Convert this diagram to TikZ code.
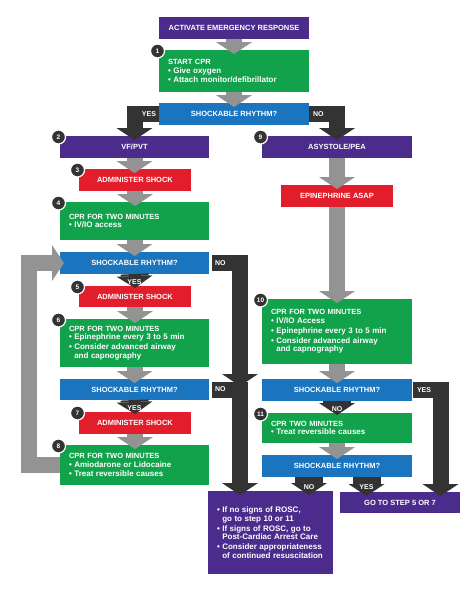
\documentclass[tikz,border=0pt]{standalone}
\usepackage{fontspec}
\setmainfont{Liberation Sans}
\usetikzlibrary{arrows.meta,calc}
\definecolor{acpurple}{HTML}{4B2C8C}
\definecolor{acgreen}{HTML}{12A24B}
\definecolor{acblue}{HTML}{1B74BE}
\definecolor{acred}{HTML}{E31E2C}
\definecolor{acdark}{HTML}{333333}
\definecolor{acgrey}{HTML}{939393}
\newcommand{\fB}{\fontsize{7.5}{8.6}\selectfont\bfseries}
\newcommand{\fL}{\fontsize{8}{8.8}\selectfont}
\newcommand{\fN}{\fontsize{6.5}{7}\selectfont\bfseries}
\newcommand{\bul}{\fL\textbullet\ }
\newcommand{\cont}{\phantom{\textbullet\ }}
\tikzset{bx/.style={inner sep=0pt,outer sep=0pt,text=white,font=\fB},
  flatbox/.style={bx,align=center,minimum height=22pt},
  listbox/.style={bx,align=left,inner xsep=9pt},
  lbl/.style={bx,font=\fontsize{7}{8}\selectfont\bfseries},
  num/.style={circle,fill=acdark,draw=white,line width=1.2pt,text=white,
    minimum size=14pt,inner sep=0pt,font=\fN}}

\begin{document}
\begin{tikzpicture}[x=1pt,y=-1pt,
    greyarr/.style={draw=acgrey,line width=16pt,line join=miter,
      -{Triangle[length=12pt,width=36pt,line width=0pt]},shorten >=-4pt},
    darkarr/.style={greyarr,draw=acdark},
    headarr/.style={darkarr,line width=28pt,shorten >=-2pt}]
  \fill[white] (0,0) rectangle (474,590);
  \path[use as bounding box] (0,0) rectangle (474,590);

  % Top
  \node[flatbox,fill=acpurple,minimum width=150pt] (act) at (234,28) {ACTIVATE EMERGENCY RESPONSE};
  \node[listbox,fill=acgreen,text width=132pt,minimum height=42pt] (cpr1) at (234,71)
    {START CPR\\ \bul Give oxygen\\[1pt] \bul Attach monitor/defibrillator};
  \node[flatbox,fill=acblue,minimum width=150pt] (rhythm1) at (234,114) {SHOCKABLE RHYTHM?};

  % Shockable branch
  \node[flatbox,fill=acpurple,minimum width=149pt] (vf) at (134.5,147) {VF/PVT};
  \node[flatbox,fill=acred,minimum width=112pt] (shock3) at (135,180) {ADMINISTER SHOCK};
  \node[listbox,fill=acgreen,text width=131pt,minimum height=38pt] (cpr4) at (134.5,221)
    {CPR FOR TWO MINUTES\\ \bul IV/IO access};
  \node[flatbox,fill=acblue,minimum width=149pt] (rhythm2) at (134.5,263) {SHOCKABLE RHYTHM?};
  \node[flatbox,fill=acred,minimum width=112pt,minimum height=21pt] (shock5) at (135,296.5) {ADMINISTER SHOCK};
  \node[listbox,fill=acgreen,text width=131pt,minimum height=48pt] (cpr6) at (134.5,343)
    {CPR FOR TWO MINUTES\\ \bul Epinephrine every 3 to 5 min\\[1pt]
     \bul Consider advanced airway\\ \cont and capnography};
  \node[flatbox,fill=acblue,minimum width=149pt,minimum height=21pt] (rhythm3) at (134.5,389.5) {SHOCKABLE RHYTHM?};
  \node[flatbox,fill=acred,minimum width=112pt] (shock7) at (135,423) {ADMINISTER SHOCK};
  \node[listbox,fill=acgreen,text width=131pt,minimum height=40pt] (cpr8) at (134.5,465)
    {CPR FOR TWO MINUTES\\ \bul Amiodarone or Lidocaine\\[1pt] \bul Treat reversible causes};

  % Non-shockable branch
  \node[flatbox,fill=acpurple,minimum width=150pt] (asys) at (337,147) {ASYSTOLE/PEA};
  \node[flatbox,fill=acred,minimum width=112pt] (epi) at (337,196) {EPINEPHRINE ASAP};
  \node[listbox,fill=acgreen,text width=132pt,minimum height=65pt] (cpr10) at (337,331.5)
    {CPR FOR TWO MINUTES\\ \bul IV/IO Access\\[1pt] \bul Epinephrine every 3 to 5 min\\[1pt]
     \bul Consider advanced airway\\ \cont and capnography};
  \node[flatbox,fill=acblue,minimum width=150pt] (rhythm4) at (337,390) {SHOCKABLE RHYTHM?};
  \node[listbox,fill=acgreen,text width=132pt,minimum height=30pt] (cpr11) at (337,428)
    {CPR TWO MINUTES\\ \bul Treat reversible causes};
  \node[flatbox,fill=acblue,minimum width=150pt] (rhythm5) at (337,466) {SHOCKABLE RHYTHM?};

  % Outcomes
  \node[listbox,fill=acpurple,text width=107pt,minimum height=83pt] (final) at (270.5,532.5)
    {\bul If no signs of ROSC,\\ \cont go to step 10 or 11\\[1pt]
     \bul If signs of ROSC, go to\\ \cont Post-Cardiac Arrest Care\\[1pt]
     \bul Consider appropriateness\\ \cont of continued resuscitation};
  \node[flatbox,fill=acpurple,minimum width=120pt,minimum height=21pt] (go) at (400,502.5) {GO TO STEP 5 OR 7};

  % Grey flow arrows
  \foreach \a/\b in {act/cpr1,cpr1/rhythm1,vf/shock3,shock3/cpr4,cpr4/rhythm2,
      shock5/cpr6,cpr6/rhythm3,shock7/cpr8,asys/epi,epi/cpr10,cpr10/rhythm4,cpr11/rhythm5}
    \draw[greyarr] (\a.south) -- (\a.south |- \b.north);
  \draw[greyarr] (cpr8.west) -- ++(-31,0) |- (rhythm2.west);

  % Decisions
  \coordinate (merge) at (240,386);
  \coordinate (ycol) at (440.5,390);
  \coordinate (nohead) at ($(rhythm5.south)+(-28,0)$);
  \coordinate (yeshead) at ($(rhythm5.south)+(29.5,0)$);
  \draw[darkarr] (rhythm1.west) -| (vf.north);
  \draw[darkarr] (rhythm1.east) -| (asys.north);
  \draw[darkarr,shorten >=0pt] ([xshift=3pt]rhythm2.east) -| (merge);
  \draw[darkarr] ([xshift=3pt]rhythm3.east) -| (merge |- final.north);
  \draw[darkarr] ([xshift=1pt]rhythm4.east) -| (ycol |- go.north);
  \draw[headarr] (rhythm2.south) -- (shock5.north);
  \draw[headarr] (rhythm3.south) -- (shock7.north);
  \draw[headarr] (rhythm4.south) -- (cpr11.north);
  \draw[headarr,shorten >=-4pt] (nohead) -- (nohead |- final.north);
  \draw[headarr,shorten >=-4pt] (yeshead) -- (yeshead |- go.north);

  % Labels
  \node[lbl,anchor=east] (yes1) at ([xshift=-3pt]rhythm1.west) {YES};
  \node[lbl,anchor=west] (no1) at ([xshift=4pt]rhythm1.east) {NO};
  \node[lbl,anchor=west] (no2) at ([xshift=6pt]rhythm2.east) {NO};
  \node[lbl,anchor=west] (no3) at ([xshift=6pt]rhythm3.east) {NO};
  \node[lbl,anchor=west] (yes4) at ([xshift=5pt]rhythm4.east) {YES};
  \node[lbl] (yes2) at ([yshift=-8pt]rhythm2.south) {YES};
  \node[lbl] (yes3) at ([yshift=-8pt]rhythm3.south) {YES};
  \node[lbl] (no4) at ([yshift=-8pt]rhythm4.south) {NO};
  \node[lbl] (no5) at ([yshift=-10pt]nohead) {NO};
  \node[lbl] (yes5) at ([yshift=-10pt]yeshead) {YES};

  % Step numbers
  \foreach \nd/\k in {cpr1/1,vf/2,shock3/3,cpr4/4,shock5/5,cpr6/6,shock7/7,cpr8/8,
      asys/9,cpr10/10,cpr11/11}
    \node[num] (n\k) at ([shift={(-1.5,1)}]\nd.north west) {\k};
\end{tikzpicture}
\end{document}
